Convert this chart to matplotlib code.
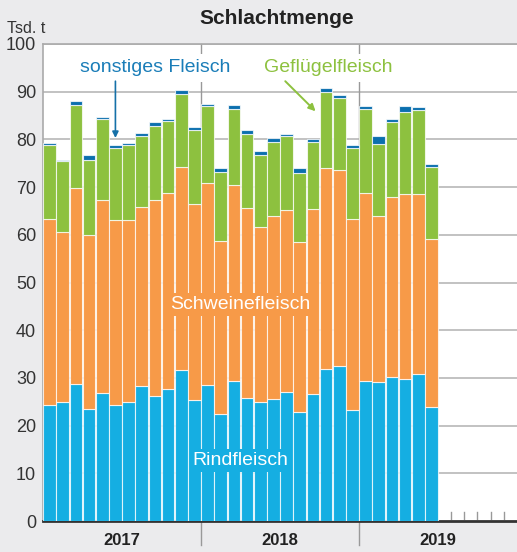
import numpy as np
import matplotlib.pyplot as plt

plt.rcParams['font.family'] = ['Liberation Sans', 'DejaVu Sans']

rind = [24.4, 24.9, 28.8, 23.5, 26.8, 24.4, 24.9, 28.2, 26.3, 27.6, 31.7, 25.3,
        28.5, 22.5, 29.3, 25.8, 24.9, 25.5, 27.0, 22.9, 26.6, 31.9, 32.4, 23.2,
        29.4, 29.2, 30.2, 29.8, 30.8, 23.8]
bis_schwein = [63.3, 60.6, 69.9, 60.0, 67.4, 63.1, 63.0, 65.8, 67.3, 68.8, 74.3, 66.5,
               70.9, 58.8, 70.4, 65.6, 61.7, 63.9, 65.3, 58.5, 65.5, 73.9, 73.5, 63.4,
               68.7, 63.9, 68.0, 68.6, 68.6, 59.2]
bis_gefluegel = [78.8, 75.4, 87.3, 75.6, 84.2, 78.1, 78.8, 80.8, 82.8, 83.8, 89.6, 81.9,
                 86.9, 73.2, 86.4, 81.1, 76.8, 79.5, 80.8, 73.0, 79.5, 90.0, 88.7, 78.2,
                 86.3, 79.1, 83.7, 85.8, 86.2, 74.2]
gesamt = [79.3, 75.6, 88.0, 76.7, 84.7, 78.8, 79.3, 81.3, 83.6, 84.3, 90.4, 82.6,
          87.5, 73.9, 87.3, 81.9, 77.6, 80.2, 81.2, 73.9, 80.1, 90.8, 89.4, 78.9,
          86.9, 80.7, 84.2, 86.9, 86.8, 74.8]
jahre = ["2017", "2018", "2019"]
n_slots = 36

schwein = np.array(bis_schwein) - np.array(rind)
gefluegel = np.array(bis_gefluegel) - np.array(bis_schwein)
sonstiges = np.array(gesamt) - np.array(bis_gefluegel)

c_rind = "#15aee2"
c_schwein = "#f79a48"
c_gefl = "#8dc13f"
c_sonst = "#0b6fae"
c_bg = "#ebebed"

fig = plt.figure(figsize=(5.17, 5.52), dpi=100, facecolor=c_bg)
ax = fig.add_axes([43 / 517, 31 / 552, 474 / 517, 477 / 552])
ax.set_facecolor("white")

x = np.arange(len(rind))
kw = dict(width=0.96, edgecolor=(1, 1, 1, 0.75), linewidth=0.8, zorder=3)
ax.bar(x, rind, color=c_rind, **kw)
ax.bar(x, schwein, bottom=rind, color=c_schwein, **kw)
ax.bar(x, gefluegel, bottom=bis_schwein, color=c_gefl, **kw)
ax.bar(x, sonstiges, bottom=bis_gefluegel, color=c_sonst, **kw)

ax.set_xlim(-0.5, n_slots - 0.5)
ax.set_ylim(0, 100)
ax.set_yticks(range(0, 101, 10))
ax.tick_params(axis="y", length=0, labelsize=13, colors="#333333", pad=5)
ax.set_xticks([])
for y in range(10, 101, 10):
    ax.axhline(y, color="#bdbdbd", lw=1.3, zorder=1)

for s in ["top", "right"]:
    ax.spines[s].set_visible(False)
ax.spines["left"].set_color("#aaaaaa")
ax.spines["left"].set_linewidth(1.2)
ax.spines["bottom"].set_color("#333333")
ax.spines["bottom"].set_linewidth(2)

# kleine Monatsstriche in leeren Monaten
for b in range(len(rind) + 1, n_slots):
    ax.plot([b - 0.5, b - 0.5], [0.4, 1.8], color="#999999", lw=1, zorder=2,
            clip_on=False)

# Jahrestrenner und Jahreszahlen
for k, jahr in enumerate(jahre):
    if k > 0:
        ax.plot([12 * k - 0.5, 12 * k - 0.5], [-5, 100], color="#999999", lw=1,
                zorder=2, clip_on=False)
    ax.text(12 * k + 5.5, -4, jahr, ha="center", va="center", fontsize=12,
            fontweight="bold", color="#222222")

# Beschriftungen
ax.text(14.5, 45.4, "Schweinefleisch", ha="center", va="center", fontsize=14,
        color="white", zorder=5,
        bbox=dict(boxstyle="square,pad=0.15", fc=c_schwein, ec="none"))
ax.text(14.5, 12.6, "Rindfleisch", ha="center", va="center", fontsize=14,
        color="white", zorder=5,
        bbox=dict(boxstyle="square,pad=0.15", fc=c_rind, ec="none"))
ax.text(8.0, 95.0, "sonstiges Fleisch", ha="center", va="center", fontsize=14,
        color="#1a7db8", zorder=5,
        bbox=dict(boxstyle="square,pad=0.3", fc="white", ec="none"))
ax.annotate("", xy=(5.0, 80.3), xytext=(5.0, 92.2),
            arrowprops=dict(arrowstyle="-|>", color="#1570a8", lw=1.2,
                            mutation_scale=9, shrinkA=0, shrinkB=0), zorder=5)
ax.text(21.2, 95.0, "Geflügelfleisch", ha="center", va="center", fontsize=14,
        color=c_gefl, zorder=5,
        bbox=dict(boxstyle="square,pad=0.3", fc="white", ec="none"))
ax.annotate("", xy=(20.2, 85.9), xytext=(17.9, 92.2),
            arrowprops=dict(arrowstyle="-|>", color=c_gefl, lw=1.4,
                            mutation_scale=10, shrinkA=0, shrinkB=0), zorder=5)

# Kopfbereich
fig.add_artist(plt.Line2D([43 / 517, 1], [508 / 552, 508 / 552], color="#aaaaaa",
                          lw=1.2))
fig.text(0.536, 0.966, "Schlachtmenge", ha="center", va="center", fontsize=15,
         fontweight="bold", color="#222222")
fig.text(7 / 517, 0.948, "Tsd. t", ha="left", va="center", fontsize=11.5,
         color="#333333")

fig.savefig("out.png", dpi=100, facecolor=c_bg)
